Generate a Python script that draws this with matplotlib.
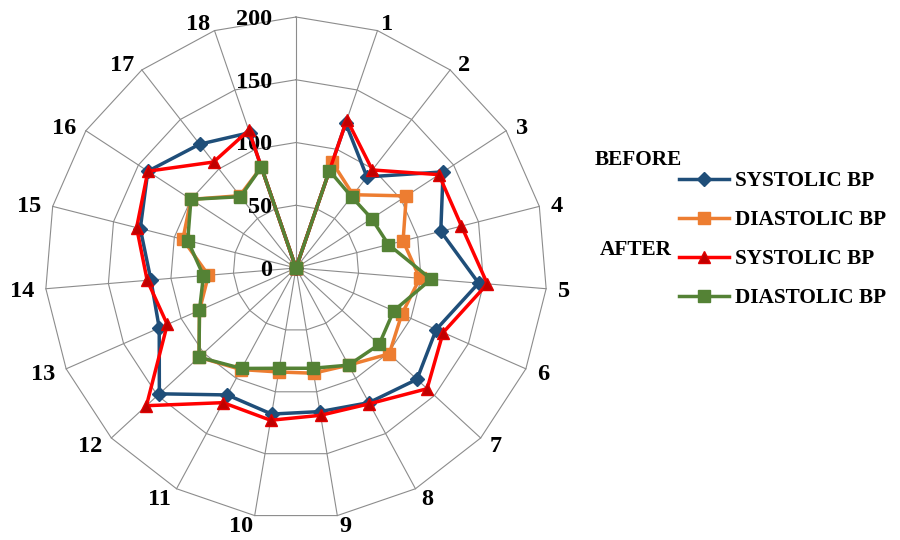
import matplotlib
matplotlib.use('Agg')
import matplotlib.pyplot as plt
import matplotlib.transforms as mtransforms
import numpy as np

plt.rcParams['font.family'] = ['Liberation Serif', 'DejaVu Serif']
plt.rcParams['font.weight'] = 'bold'

# patients 1..18, first spoke left empty (all series start from 0)
categories = [''] + [str(i) for i in range(1, 19)]
before_systolic = [0, 122, 92, 140, 119, 146, 122, 131, 122, 116, 118, 115, 148, 119, 116, 128, 141, 125, 114]
before_diastolic = [0, 89, 74, 105, 88, 99, 92, 101, 88, 85, 84, 92, 105, 84, 70, 93, 100, 73, 85]
after_systolic = [0, 125, 99, 136, 136, 153, 128, 142, 123, 119, 123, 122, 162, 112, 119, 131, 141, 107, 116]
after_diastolic = [0, 82, 72, 72, 76, 108, 85, 90, 88, 81, 81, 91, 105, 84, 74, 89, 100, 72, 85]
ring_values = [0, 50, 100, 150, 200]
series_labels = ['SYSTOLIC BP', 'DIASTOLIC BP', 'SYSTOLIC BP', 'DIASTOLIC BP']

n = len(categories)
angles = np.arange(n) * 2 * np.pi / n
closed = np.append(angles, angles[0])

fig = plt.figure(figsize=(9, 5.4), dpi=100)
ax = fig.add_axes([45 / 900, 21 / 540, 502 / 900, 502 / 540], projection='polar')
ax.set_theta_offset(np.pi / 2)
ax.set_theta_direction(-1)
ax.set_ylim(0, 200)
ax.grid(False)
ax.spines['polar'].set_visible(False)
ax.set_xticks([])
ax.set_yticks([])

# polygon grid like a spreadsheet radar chart
grid_col = '#8c8c8c'
for r in ring_values[1:]:
    ax.plot(closed, [r] * len(closed), color=grid_col, lw=0.8, zorder=1, clip_on=False)
for a in angles:
    ax.plot([a, a], [0, 200], color=grid_col, lw=0.8, zorder=1, clip_on=False)

# value labels to the left of the top spoke
shift = mtransforms.offset_copy(ax.transData, fig=fig, x=-24, y=0, units='dots')
for r in ring_values:
    ax.text(0, r, str(r), transform=shift, ha='right', va='center_baseline', fontsize=17.5)

# category labels just outside the spoke tips
for a, lab in zip(angles, categories):
    if not lab:
        continue
    s, c = np.sin(a), np.cos(a)
    tr = mtransforms.offset_copy(ax.transData, fig=fig, x=12 * s, y=9 * c, units='dots')
    ax.text(a, 200, lab, transform=tr, ha='left' if s > 0 else 'right',
            va='center_baseline', fontsize=17.5, clip_on=False)

styles = [
    (before_systolic, '#1F4E79', 'D', 7, '#1F4E79', '#1F4E79'),
    (before_diastolic, '#ED7D31', 's', 8, '#ED7D31', '#ED7D31'),
    (after_systolic, '#FF0000', '^', 9, '#C00000', '#E00000'),
    (after_diastolic, '#548235', 's', 8, '#548235', '#548235'),
]
handles = []
for i, (vals, col, mk, ms, fc, ec) in enumerate(styles):
    v = np.append(vals, vals[0])
    ln, = ax.plot(closed, v, color=col, lw=2.5, marker=mk, ms=ms,
                  mfc=fc, mec=ec, zorder=3 + i, clip_on=False)
    handles.append(ln)

fig.legend(handles, series_labels, loc='upper left',
           bbox_to_anchor=(679 / 900, 1 - 171 / 540), frameon=False,
           fontsize=15.3, handlelength=2.35, handletextpad=0.3,
           labelspacing=0.9, borderpad=0, borderaxespad=0)

fig.text(682 / 900, 1 - 158 / 540, 'BEFORE', ha='right', va='center_baseline', fontsize=15.3)
fig.text(672 / 900, 1 - 247 / 540, 'AFTER', ha='right', va='center_baseline', fontsize=15.3)

fig.savefig('out.png', dpi=100)
plt.close(fig)
